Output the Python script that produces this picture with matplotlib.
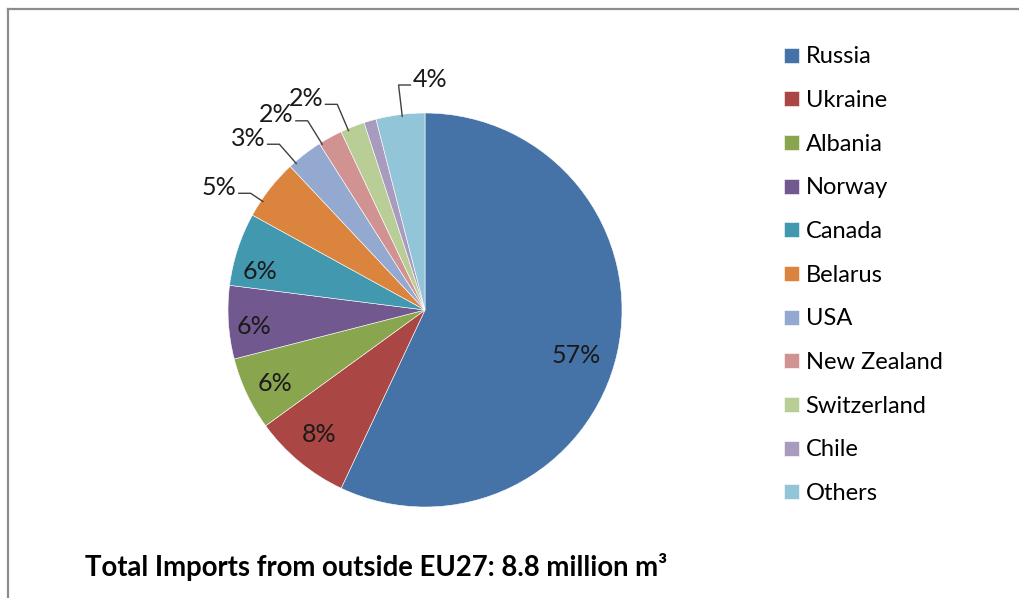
import numpy as np
import matplotlib.pyplot as plt
from matplotlib.lines import Line2D

countries = ['Russia', 'Ukraine', 'Albania', 'Norway', 'Canada', 'Belarus',
             'USA', 'New Zealand', 'Switzerland', 'Chile', 'Others']
shares = [57, 8, 6, 6, 6, 5, 3, 2, 2, 1, 4]
colors = ['#4572A7', '#AA4643', '#89A54E', '#71588F', '#4198AF', '#DB843D',
          '#93A9CF', '#D19392', '#B9CD96', '#A99BBD', '#92C5D8']
title = 'Total Imports from outside EU27: 8.8 million m\u00b3'

# label placement: ('in', radius, angle shift) inside the slice,
# ('out', elbow radius, angle shift, side) with a leader line, None = no label
label_mode = [('in', 0.80, -4), ('in', 0.83, -1), ('in', 0.85, 1), ('in', 0.87, 2),
              ('in', 0.86, 5),
              ('out', 1.065, 4, -1), ('out', 1.12, 3.5, -1), ('out', 1.13, 3, -1),
              ('out', 1.135, 1.5, -1), None, ('out', 1.15, -0.5, 1)]

plt.rcParams['font.family'] = ['Lato', 'DejaVu Sans']

W, H = 1019, 598
fig = plt.figure(figsize=(W / 100, H / 100), dpi=100)

# pie centre and radius in pixels
cx, cy, r = 425, 310, 197
L = 1.5 * r
ax = fig.add_axes([(cx - L) / W, (H - cy - L) / H, 2 * L / W, 2 * L / H])
wedges, _ = ax.pie(shares, colors=colors, startangle=90, counterclock=False,
                   radius=1.0, wedgeprops=dict(edgecolor='white', linewidth=0.4))
ax.set_xlim(-1.5, 1.5)
ax.set_ylim(-1.5, 1.5)
ax.axis('off')

for w, v, mode in zip(wedges, shares, label_mode):
    if mode is None:
        continue
    ang = np.deg2rad((w.theta1 + w.theta2) / 2 + mode[2])
    ca, sa = np.cos(ang), np.sin(ang)
    txt = f'{v}%'
    if mode[0] == 'in':
        rr = mode[1]
        ax.text(rr * ca, rr * sa, txt, ha='center', va='center', fontsize=18, color='#1a1a1a')
    else:
        side = mode[3]
        x0, y0 = 0.99 * ca, 0.99 * sa
        x1, y1 = mode[1] * ca, mode[1] * sa
        x2 = x1 + side * 0.06
        ax.plot([x0, x1, x2], [y0, y1, y1], color='#404040', lw=1.0)
        ax.text(x2 + side * 0.012, y1 + 0.03, txt, ha='left' if side > 0 else 'right',
                va='center', fontsize=18, color='#1a1a1a')

fig.legend(wedges, countries, loc='upper left', bbox_to_anchor=(775 / W, 1 - 37 / H),
           frameon=False, fontsize=17, handlelength=0.6, handleheight=0.6,
           handletextpad=0.3, labelspacing=0.96, borderaxespad=0)

fig.text(85 / W, 1 - 567 / H, title, ha='left', va='center', fontsize=19.8,
         fontweight='bold', color='black')

# frame lines on top and left
fig.add_artist(Line2D([8 / W, 1], [1 - 9 / H, 1 - 9 / H], color='#8c8c8c', lw=1.6,
                      transform=fig.transFigure))
fig.add_artist(Line2D([8 / W, 8 / W], [0, 1 - 9 / H], color='#8c8c8c', lw=1.6,
                      transform=fig.transFigure))

fig.savefig('out.png', dpi=100)
